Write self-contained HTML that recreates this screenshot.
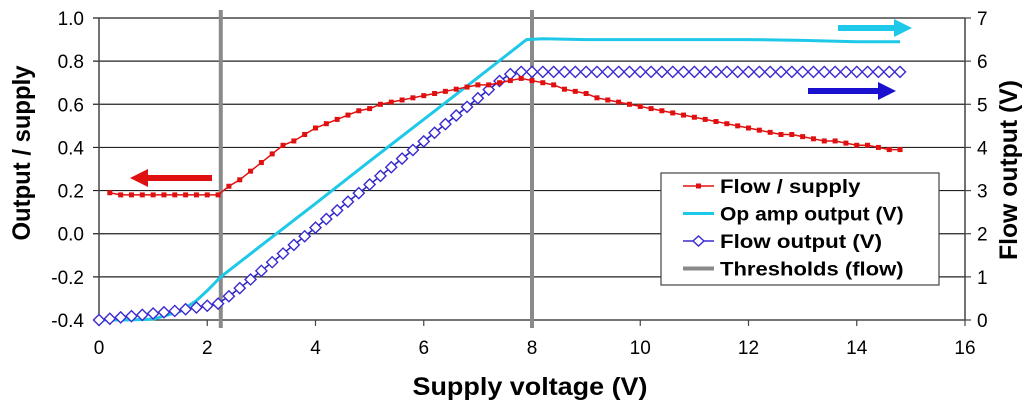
<!DOCTYPE html>
<html><head><meta charset="utf-8"><style>
body{margin:0;background:#fff;}
svg text{font-family:"Liberation Sans",Arial,sans-serif;}
</style></head><body>
<svg id="c" width="1024" height="406" xmlns="http://www.w3.org/2000/svg"></svg>
<script>
const xTicks=[0,2,4,6,8,10,12,14,16];
const yLeftTicks=[-0.4,-0.2,0.0,0.2,0.4,0.6,0.8,1.0];
const yRightTicks=[0,1,2,3,4,5,6,7];
const thresholds=[2.25,8];
const flowSupplyX0=0.2, step=0.2;
const flowSupply=[0.19,0.18,0.18,0.18,0.18,0.18,0.18,0.18,0.18,0.18,0.18,
0.22,0.25,0.29,0.33,0.37,0.41,0.43,0.46,0.49,
0.51,0.53,0.55,0.57,0.58,0.60,0.61,0.62,0.63,0.64,
0.65,0.66,0.67,0.68,0.69,0.69,0.70,0.71,0.72,0.71,
0.70,0.69,0.67,0.66,0.65,0.63,0.62,0.61,0.60,0.59,
0.58,0.57,0.56,0.55,0.54,0.53,0.52,0.51,0.50,0.49,
0.48,0.47,0.46,0.46,0.45,0.44,0.43,0.43,0.42,0.41,
0.41,0.40,0.39,0.39];
const flowOutput=[0,0.03,0.06,0.09,0.12,0.15,0.18,0.21,0.25,0.29,0.33,0.38,
0.55,0.74,0.94,1.14,1.34,1.54,1.74,1.94,2.14,2.34,2.54,2.74,2.94,3.14,3.34,3.54,3.74,3.94,4.14,4.34,4.54,4.74,4.94,5.14,5.34,5.54,5.70,5.75,
5.75,5.75,5.75,5.75,5.75,5.75,5.75,5.75,5.75,5.75,5.75,5.75,5.75,5.75,5.75,5.75,5.75,5.75,5.75,5.75,5.75,5.75,5.75,5.75,5.75,5.75,5.75,5.75,5.75,5.75,5.75,5.75,5.75,5.75,5.75];
const opAmpX=[0,0.5,1,1.5,1.8,2.0,2.25,3,4,5,6,7,7.9,8.2,9,10,11,12,13,14,14.8];
const opAmpY=[0,0,0.02,0.2,0.45,0.68,1.0,1.73,2.7,3.68,4.65,5.62,6.5,6.52,6.5,6.5,6.5,6.5,6.48,6.45,6.45];

const X0=99,X1=965,YT=18,YB=320;
const xs=v=>X0+(v/16)*(X1-X0);
const yl=v=>YB-((v+0.4)/1.4)*(YB-YT);
const yr=v=>YB-(v/7)*(YB-YT);
const svg=document.getElementById('c');
const NS='http://www.w3.org/2000/svg';
function mk(tag,attrs,parent){const e=document.createElementNS(NS,tag);for(const k in attrs)e.setAttribute(k,attrs[k]);(parent||svg).appendChild(e);return e;}

yLeftTicks.forEach(v=>{
 const l=mk('line',{x1:X0-6,x2:X1,y1:yl(v),y2:yl(v),stroke:'#222','stroke-width':1.2});
 
 
 const t=mk('text',{x:X0-15,y:yl(v)+7,'text-anchor':'end','font-size':19});
 t.textContent=v.toFixed(1);
 
 
});
yRightTicks.forEach(v=>{
 mk('line',{x1:X1,x2:X1+6,y1:yr(v),y2:yr(v),stroke:'#444','stroke-width':1.2});
 const t=mk('text',{x:X1+12,y:yr(v)+7,'font-size':19});
 t.textContent=v;
 
 
});
xTicks.forEach(v=>{
 mk('line',{x1:xs(v),x2:xs(v),y1:YB,y2:YB+6,stroke:'#444','stroke-width':1.2});
 const t=mk('text',{x:xs(v),y:YB+34,'text-anchor':'middle','font-size':19});
 t.textContent=v;
 
 
});
const ax=mk('line',{x1:X0,x2:X0,y1:YT,y2:YB,stroke:'#444','stroke-width':1.5});

const ax2=mk('line',{x1:X1,x2:X1,y1:YT,y2:YB,stroke:'#444','stroke-width':1.5});


thresholds.forEach(v=>{
 const l=mk('line',{x1:xs(v),x2:xs(v),y1:YT-8,y2:YB+8,stroke:'#8a8a8a','stroke-width':4});
 
 
});

const op=mk('polyline',{points:opAmpX.map((x,i)=>xs(x)+','+yr(opAmpY[i])).join(' '),fill:'none',stroke:'#1ec8e8','stroke-width':3});



const fo=mk('polyline',{points:flowOutput.map((v,i)=>xs(i*step)+','+yr(v)).join(' '),fill:'none',stroke:'#2020c0','stroke-width':1.5});


flowOutput.forEach((v,i)=>{
 const cx=xs(i*step),cy=yr(v),r=5.5;
 const d=mk('polygon',{points:`${cx},${cy-r} ${cx+r},${cy} ${cx},${cy+r} ${cx-r},${cy}`,fill:'#fff',stroke:'#3a2ad0','stroke-width':1.4});
 
 
});

const fs=mk('polyline',{points:flowSupply.map((v,i)=>xs(flowSupplyX0+i*step)+','+yl(v)).join(' '),fill:'none',stroke:'#e01010','stroke-width':1.5});


flowSupply.forEach((v,i)=>{
 const r=mk('rect',{x:xs(flowSupplyX0+i*step)-2.5,y:yl(v)-2.5,width:5,height:5,fill:'#e01010'});
 
 
});

function arrow(x1,x2,y,color,name){
 const g=mk('g',{});
 
 
 const dir=x2>x1?1:-1;
 mk('line',{x1:x1,x2:x2-dir*14,y1:y,y2:y,stroke:color,'stroke-width':6},g);
 mk('polygon',{points:`${x2},${y} ${x2-dir*18},${y-9} ${x2-dir*18},${y+9}`,fill:color},g);
}
arrow(212,130,178,'#e01010','left-axis-arrow');
arrow(838,912,28,'#1ec8e8','op-amp-axis-arrow');
arrow(808,896,91,'#1a10d0','flow-output-axis-arrow');

const lg=mk('g',{});


mk('rect',{x:661,y:173,width:278,height:112,fill:'#fff',stroke:'#444','stroke-width':1.2},lg);
const items=[['Flow / supply','#e01010','sq'],['Op amp output (V)','#1ec8e8','ln'],['Flow output (V)','#3a2ad0','dm'],['Thresholds (flow)','#8a8a8a','th']];
items.forEach((it,i)=>{
 const y=186+i*27.5;
 const e=mk('g',{},lg);
 
 
 mk('line',{x1:683,x2:714,y1:y,y2:y,stroke:it[1],'stroke-width':it[2]=='th'?4:(it[2]=='ln'?3:1.5)},e);
 if(it[2]=='sq')mk('rect',{x:696,y:y-2.5,width:5,height:5,fill:it[1]},e);
 if(it[2]=='dm')mk('polygon',{points:`698.5,${y-5} 704,${y} 698.5,${y+5} 693,${y}`,fill:'#fff',stroke:it[1],'stroke-width':1.4},e);
 const t=mk('text',{x:720,y:y+7,'font-size':19,'font-weight':'bold',textLength:it[0].length*10.8,lengthAdjust:'spacingAndGlyphs'},e);
 t.textContent=it[0];
});

let t=mk('text',{x:530,y:395,'text-anchor':'middle','font-size':25,'font-weight':'bold',textLength:235,lengthAdjust:'spacingAndGlyphs'});
t.textContent='Supply voltage (V)';
t=mk('text',{x:0,y:0,'text-anchor':'middle','font-size':25,'font-weight':'bold',textLength:175,lengthAdjust:'spacingAndGlyphs',transform:'translate(30,153) rotate(-90)'});
t.textContent='Output / supply';
t=mk('text',{x:0,y:0,'text-anchor':'middle','font-size':25,'font-weight':'bold',textLength:180,lengthAdjust:'spacingAndGlyphs',transform:'translate(1017,170) rotate(-90)'});
t.textContent='Flow output (V)';
</script>
</body></html>
